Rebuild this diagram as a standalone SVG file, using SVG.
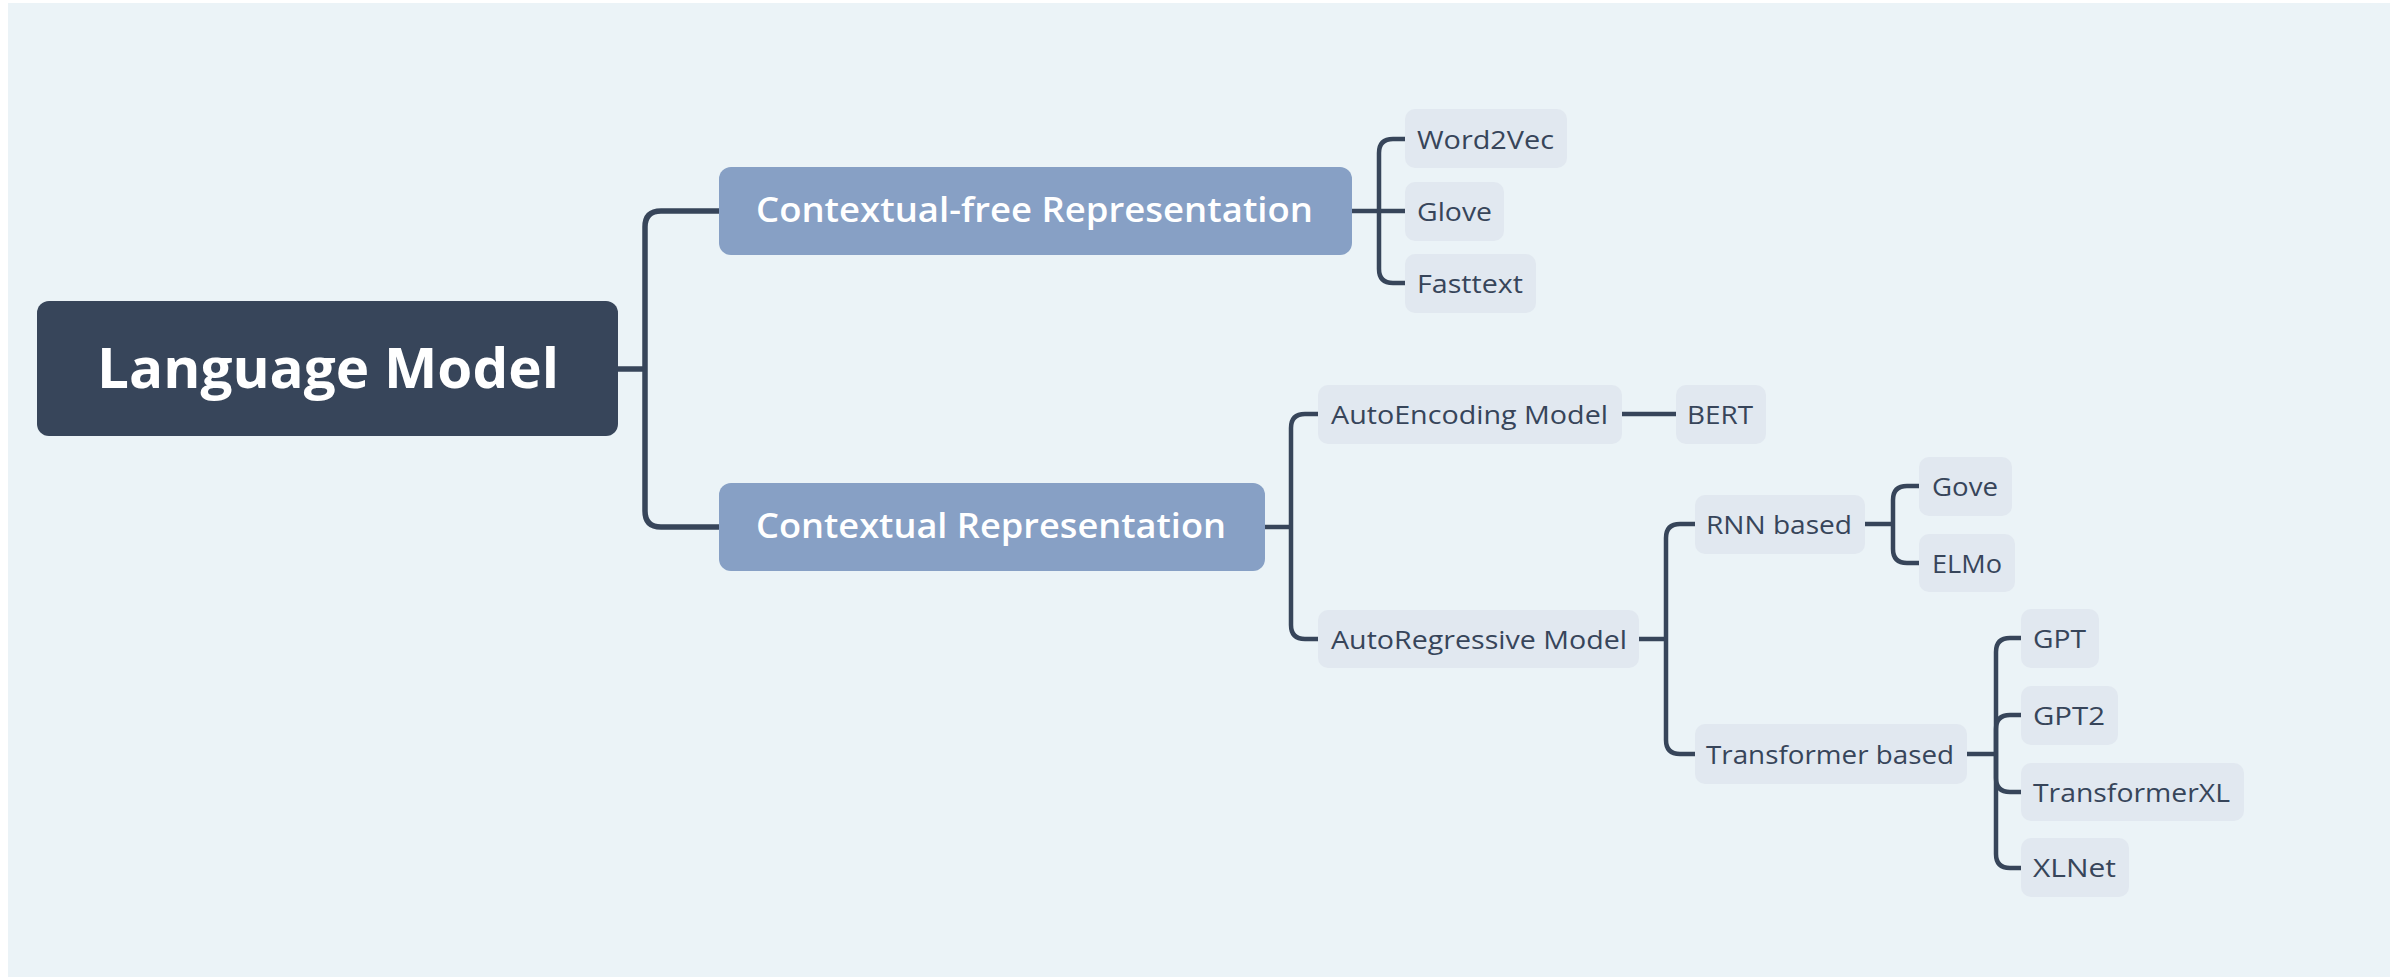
<svg xmlns="http://www.w3.org/2000/svg" width="2400" height="977" viewBox="0 0 2400 977">
  <style>
    .bg { fill: #EBF3F7; }
    .root rect { fill: #37455A; }
    .root text { fill: #FFFFFF; font-family: "Open Sans", "Noto Sans", sans-serif; font-weight: 700; font-size: 56px; }
    .mid rect { fill: #87A0C5; }
    .mid text { fill: #FFFFFF; font-family: "Open Sans", "Noto Sans", sans-serif; font-weight: 600; font-size: 34px; }
    .leaf rect { fill: #E1E8F0; }
    .leaf text { fill: #37455A; font-family: "Open Sans", "Noto Sans", sans-serif; font-weight: 400; font-size: 26px; }
    .wire { fill: none; stroke: #37455A; stroke-width: 4.5; stroke-linecap: butt; stroke-linejoin: round; }
    .wire.main { stroke-width: 5.5; }
  </style>

  <rect class="bg" x="8" y="3" width="2382" height="974"/>

  <!-- connectors -->
  <g id="connectors">
    <!-- root to level 1 -->
    <path class="wire main" d="M618,369 H645"/>
    <path class="wire main" d="M719,211 H661 Q645,211 645,227 V511 Q645,527 661,527 H719"/>

    <!-- Contextual-free Representation -->
    <path class="wire" d="M1352,211 H1379"/>
    <path class="wire" d="M1379,211 V153 Q1379,139 1393,139 H1405"/>
    <path class="wire" d="M1379,211 H1405"/>
    <path class="wire" d="M1379,211 V269 Q1379,283 1393,283 H1405"/>

    <!-- Contextual Representation -->
    <path class="wire" d="M1265,527 H1291"/>
    <path class="wire" d="M1291,527 V428 Q1291,414 1305,414 H1318"/>
    <path class="wire" d="M1291,527 V625 Q1291,639 1305,639 H1318"/>

    <!-- AutoEncoding Model -> BERT -->
    <path class="wire" d="M1622,414 H1676"/>

    <!-- AutoRegressive Model -->
    <path class="wire" d="M1639,639 H1666"/>
    <path class="wire" d="M1666,639 V538 Q1666,524 1680,524 H1695"/>
    <path class="wire" d="M1666,639 V740 Q1666,754 1680,754 H1695"/>

    <!-- RNN based -->
    <path class="wire" d="M1865,524 H1893"/>
    <path class="wire" d="M1893,524 V500 Q1893,486 1907,486 H1919"/>
    <path class="wire" d="M1893,524 V549 Q1893,563 1907,563 H1919"/>

    <!-- Transformer based -->
    <path class="wire" d="M1967,754 H1996"/>
    <path class="wire" d="M1996,754 V652 Q1996,638 2010,638 H2021"/>
    <path class="wire" d="M1996,754 V729 Q1996,715 2010,715 H2021"/>
    <path class="wire" d="M1996,754 V778 Q1996,792 2010,792 H2021"/>
    <path class="wire" d="M1996,754 V854 Q1996,868 2010,868 H2021"/>
  </g>

  <!-- root -->
  <g id="language-model" class="root">
    <rect x="37" y="301" width="581" height="135" rx="12"/>
    <text x="97" y="388" textLength="462" lengthAdjust="spacingAndGlyphs">Language Model</text>
  </g>

  <!-- level 1 -->
  <g id="contextual-free" class="mid">
    <rect x="719" y="167" width="633" height="88" rx="12"/>
    <text x="756" y="222" textLength="557" lengthAdjust="spacingAndGlyphs">Contextual-free Representation</text>
  </g>
  <g id="contextual" class="mid">
    <rect x="719" y="483" width="546" height="88" rx="12"/>
    <text x="756" y="538" textLength="470" lengthAdjust="spacingAndGlyphs">Contextual Representation</text>
  </g>

  <!-- contextual-free leaves -->
  <g id="word2vec" class="leaf">
    <rect x="1405" y="109" width="162" height="59" rx="10"/>
    <text x="1417" y="149" textLength="137" lengthAdjust="spacingAndGlyphs">Word2Vec</text>
  </g>
  <g id="glove" class="leaf">
    <rect x="1405" y="182" width="99" height="59" rx="10"/>
    <text x="1417" y="221" textLength="75" lengthAdjust="spacingAndGlyphs">Glove</text>
  </g>
  <g id="fasttext" class="leaf">
    <rect x="1405" y="254" width="131" height="59" rx="10"/>
    <text x="1417" y="293" textLength="106" lengthAdjust="spacingAndGlyphs">Fasttext</text>
  </g>

  <!-- contextual branches -->
  <g id="autoencoding" class="leaf">
    <rect x="1318" y="385" width="304" height="59" rx="10"/>
    <text x="1331" y="424" textLength="277" lengthAdjust="spacingAndGlyphs">AutoEncoding Model</text>
  </g>
  <g id="bert" class="leaf">
    <rect x="1676" y="385" width="90" height="59" rx="10"/>
    <text x="1687" y="424" textLength="66" lengthAdjust="spacingAndGlyphs">BERT</text>
  </g>
  <g id="autoregressive" class="leaf">
    <rect x="1318" y="610" width="321" height="58" rx="10"/>
    <text x="1331" y="649" textLength="296" lengthAdjust="spacingAndGlyphs">AutoRegressive Model</text>
  </g>

  <g id="rnn-based" class="leaf">
    <rect x="1695" y="495" width="170" height="59" rx="10"/>
    <text x="1706" y="534" textLength="146" lengthAdjust="spacingAndGlyphs">RNN based</text>
  </g>
  <g id="transformer-based" class="leaf">
    <rect x="1695" y="724" width="272" height="60" rx="10"/>
    <text x="1706" y="764" textLength="248" lengthAdjust="spacingAndGlyphs">Transformer based</text>
  </g>

  <g id="gove" class="leaf">
    <rect x="1919" y="457" width="93" height="59" rx="10"/>
    <text x="1932" y="496" textLength="66" lengthAdjust="spacingAndGlyphs">Gove</text>
  </g>
  <g id="elmo" class="leaf">
    <rect x="1919" y="534" width="96" height="58" rx="10"/>
    <text x="1932" y="573" textLength="70" lengthAdjust="spacingAndGlyphs">ELMo</text>
  </g>

  <g id="gpt" class="leaf">
    <rect x="2021" y="609" width="78" height="59" rx="10"/>
    <text x="2033" y="648" textLength="53" lengthAdjust="spacingAndGlyphs">GPT</text>
  </g>
  <g id="gpt2" class="leaf">
    <rect x="2021" y="686" width="97" height="59" rx="10"/>
    <text x="2033" y="725" textLength="72" lengthAdjust="spacingAndGlyphs">GPT2</text>
  </g>
  <g id="transformerxl" class="leaf">
    <rect x="2021" y="763" width="223" height="58" rx="10"/>
    <text x="2033" y="802" textLength="197" lengthAdjust="spacingAndGlyphs">TransformerXL</text>
  </g>
  <g id="xlnet" class="leaf">
    <rect x="2021" y="838" width="108" height="59" rx="10"/>
    <text x="2033" y="877" textLength="83" lengthAdjust="spacingAndGlyphs">XLNet</text>
  </g>
</svg>
